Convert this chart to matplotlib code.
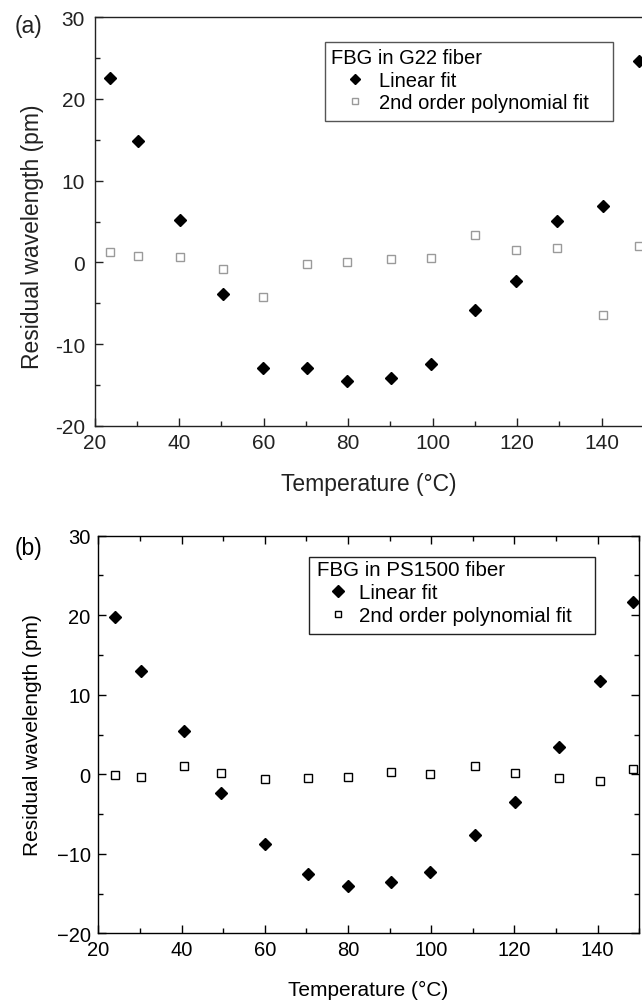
import matplotlib
matplotlib.use("Agg")
import matplotlib.pyplot as plt
from matplotlib.lines import Line2D
from matplotlib.patches import Rectangle
from matplotlib.ticker import MultipleLocator, FuncFormatter

plt.rcParams["font.family"] = ["Liberation Sans", "DejaVu Sans"]

# ----------------------------------------------------------------------
# Data
# ----------------------------------------------------------------------
temp_a = [23.6, 30.3, 40.1, 50.4, 59.9, 70.2, 79.7, 90.1, 99.5, 110.0, 119.8, 129.4, 140.3, 148.8]
linear_a = [22.6, 14.8, 5.2, -3.9, -12.9, -12.9, -14.5, -14.2, -12.5, -5.8, -2.3, 5.1, 6.9, 24.7]
poly_a = [1.3, 0.8, 0.6, -0.8, -4.3, -0.2, 0.0, 0.4, 0.5, 3.4, 1.5, 1.8, -6.4, 2.0]

temp_b = [24.1, 30.3, 40.5, 49.5, 60.1, 70.5, 80.0, 90.4, 99.8, 110.4, 120.1, 130.6, 140.5, 148.4]
linear_b = [19.8, 13.0, 5.4, -2.3, -8.8, -12.5, -14.1, -13.6, -12.3, -7.7, -3.5, 3.4, 11.7, 21.7]
poly_b = [-0.1, -0.4, 1.1, 0.1, -0.6, -0.5, -0.3, 0.3, 0.0, 1.0, 0.1, -0.5, -0.9, 0.7]

legend_titles = ["FBG in G22 fiber", "FBG in PS1500 fiber"]
series_labels = ["Linear fit", "2nd order polynomial fit"]
panel_labels = ["(a)", "(b)"]
x_label = "Temperature (\u00b0C)"
y_label = "Residual wavelength (pm)"

W, H = 642, 1004
fig = plt.figure(figsize=(W / 100, H / 100), dpi=100)


def px_axes(left, top, right, bottom):
    return [left / W, 1 - bottom / H, (right - left) / W, (bottom - top) / H]


def style_axes(ax, color, tick_size, xpad, ypad, hyphen, all_sides):
    ax.set_xlim(20, 150)
    ax.set_ylim(-20, 30)
    ax.xaxis.set_major_locator(MultipleLocator(20))
    ax.xaxis.set_minor_locator(MultipleLocator(10))
    ax.yaxis.set_major_locator(MultipleLocator(10))
    ax.yaxis.set_minor_locator(MultipleLocator(5))
    if hyphen:
        # panel (a) uses a plain hyphen for negatives
        ax.yaxis.set_major_formatter(FuncFormatter(lambda v, p: f"{v:g}"))
    ax.tick_params(which="both", direction="in", colors=color, labelcolor=color,
                   labelsize=tick_size, width=1.0, top=all_sides, right=all_sides)
    ax.tick_params(which="major", length=6)
    ax.tick_params(which="minor", length=3.5)
    ax.tick_params(axis="x", which="major", pad=xpad)
    ax.tick_params(axis="y", which="major", pad=ypad)
    for s in ax.spines.values():
        s.set_color(color)
        s.set_linewidth(1.0)


def draw_legend(ax, title, sq_color, box, anchor, fsize, hlen, edge, d_ms, s_ms):
    handles = [
        Line2D([], [], ls="none", marker="D", ms=d_ms, mfc="black", mec="black"),
        Line2D([], [], ls="none", marker="s", ms=s_ms, mfc="white", mec=sq_color, mew=1.0),
    ]
    leg = ax.legend(handles, series_labels, title=title, alignment="left",
                    loc="upper left", bbox_to_anchor=anchor, frameon=False,
                    fontsize=fsize, title_fontsize=fsize, borderpad=0, borderaxespad=0,
                    handlelength=hlen, handletextpad=0.0, labelspacing=0.18)
    x0, y0, x1, y1 = box
    ax.add_patch(Rectangle((x0, y0), x1 - x0, y1 - y0, transform=ax.transAxes,
                           fill=False, ec=edge, lw=1.0, zorder=5))
    return leg


# ----------------------------------------------------------------------
# Panel (a)
# ----------------------------------------------------------------------
ax1 = fig.add_axes(px_axes(94.7, 18.3, 644, 426.7))
style_axes(ax1, "#222222", 15, 5.5, 7, hyphen=True, all_sides=False)
ax1.spines["right"].set_color("#dddddd")
ax1.plot(temp_a, poly_a, ls="none", marker="s", ms=5.5, mfc="white", mec="#9a9a9a", mew=1.0)
ax1.plot(temp_a, linear_a, ls="none", marker="D", ms=6.5, mfc="black", mec="black", clip_on=False)
draw_legend(ax1, legend_titles[0], "#9a9a9a", (0.420, 0.745, 0.944, 0.9405),
            (0.430, 0.925), 14.5, 2.4, "#555555", 4.6, 3.8)

# ----------------------------------------------------------------------
# Panel (b)
# ----------------------------------------------------------------------
ax2 = fig.add_axes(px_axes(98.3, 536.7, 639.3, 934.3))
style_axes(ax2, "black", 14.5, 4.5, 5.5, hyphen=False, all_sides=True)
ax2.plot(temp_b, poly_b, ls="none", marker="s", ms=5.5, mfc="white", mec="black", mew=1.0)
ax2.plot(temp_b, linear_b, ls="none", marker="D", ms=6.5, mfc="black", mec="black")
draw_legend(ax2, legend_titles[1], "black", (0.390, 0.7535, 0.918, 0.946),
            (0.405, 0.938), 14.8, 2.0, "#222222", 6, 5)

# axis titles and panel letters placed by pixel
def ftext(x, y, s, **kw):
    fig.text(x / W, 1 - y / H, s, ha="center", va="center", **kw)

ftext(368.5, 484, x_label, fontsize=16.5, color="#222222")
ftext(32.8, 237, y_label, fontsize=16.5, rotation=90, color="#222222")
ftext(368.5, 990.7, x_label, fontsize=15, color="black")
ftext(32.8, 735.4, y_label, fontsize=15, rotation=90, color="black")
ftext(28.3, 26.7, panel_labels[0], fontsize=16.5, color="#222222")
ftext(28.3, 549, panel_labels[1], fontsize=16.5, color="black")

fig.savefig("out.png", dpi=100)
